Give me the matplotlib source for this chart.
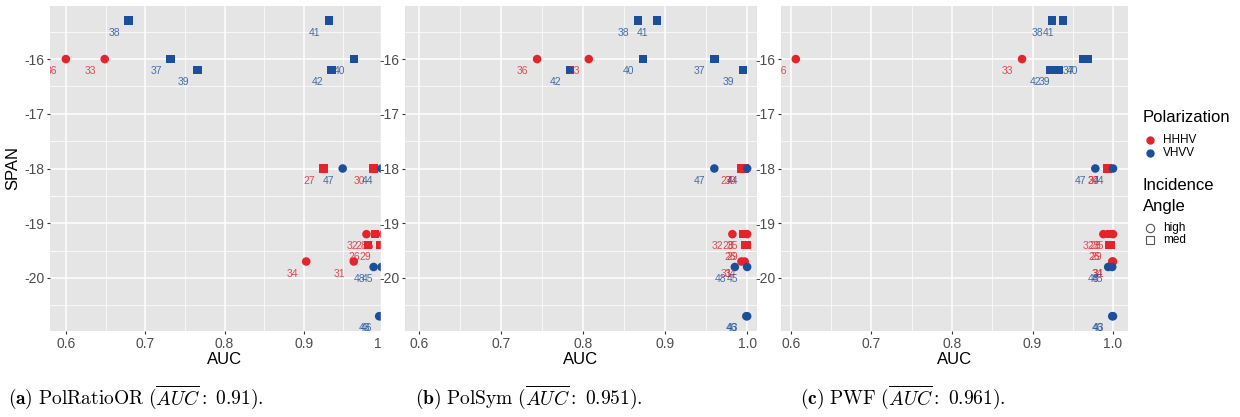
import matplotlib.pyplot as plt
from matplotlib.lines import Line2D
from matplotlib.patches import Rectangle
from matplotlib.ticker import MultipleLocator, FormatStrFormatter

plt.rcParams["font.family"] = ["Liberation Sans", "DejaVu Sans"]
plt.rcParams["axes.unicode_minus"] = False
plt.rcParams["mathtext.fontset"] = "cm"

# configuration ids 26..48
ids = [26, 27, 28, 29, 30, 31, 32, 33, 34, 35, 36,
       37, 38, 39, 40, 41, 42, 43, 44, 45, 46, 47, 48]
span = [-19.4, -18.0, -19.2, -19.4, -18.0, -19.7, -19.2, -16.0, -19.7, -19.2, -16.0,
        -16.0, -15.3, -16.2, -16.0, -15.3, -16.2, -20.7, -18.0, -19.8, -20.7, -18.0, -19.8]
pol = ["HHHV"] * 11 + ["VHVV"] * 12
angle = ["med"] * 5 + ["high"] * 6 + ["med"] * 6 + ["high"] * 6

auc_a = [0.981, 0.925, 0.990, 0.996, 0.988, 0.963, 0.979, 0.649, 0.903, 1.000, 0.600,
         0.732, 0.679, 0.766, 0.963, 0.932, 0.935, 0.995, 0.998, 0.998, 0.997, 0.949, 0.988]
auc_b = [0.998, 0.993, 0.995, 1.000, 0.997, 0.993, 0.982, 0.807, 0.997, 1.000, 0.744,
         0.960, 0.867, 0.995, 0.873, 0.890, 0.784, 1.000, 1.000, 1.000, 0.999, 0.960, 0.985]
auc_c = [0.995, 0.993, 0.996, 0.997, 0.994, 1.000, 0.988, 0.887, 0.999, 1.000, 0.606,
         0.963, 0.924, 0.933, 0.968, 0.938, 0.922, 1.000, 1.000, 0.999, 0.999, 0.978, 0.994]

captions = [r"$\mathbf{(a)}\ \mathrm{PolRatioOR}\ (\overline{AUC}\mathrm{:}\ 0.91)\mathrm{.}$",
            r"$\mathbf{(b)}\ \mathrm{PolSym}\ (\overline{AUC}\mathrm{:}\ 0.951)\mathrm{.}$",
            r"$\mathbf{(c)}\ \mathrm{PWF}\ (\overline{AUC}\mathrm{:}\ 0.961)\mathrm{.}$"]

colors = {"HHHV": "#E4232B", "VHVV": "#1B4F9C"}
markers = {"high": "o", "med": "s"}

W, H = 1240, 417
fig = plt.figure(figsize=(W / 100, H / 100), dpi=100)


def px_box(x0, x1, y0=6, y1=331):
    return [x0 / W, 1 - y1 / H, (x1 - x0) / W, (y1 - y0) / H]


panels = [
    (auc_a, px_box(50, 399), (0.58, 1.02), captions[0], 8),
    (auc_b, px_box(405, 757), (0.583, 1.012), captions[1], 415),
    (auc_c, px_box(781, 1128), (0.5876, 1.0186), captions[2], 800),
]

for i, (auc, box, xlim, cap, cap_x) in enumerate(panels):
    ax = fig.add_axes(box)
    ax.set_zorder(0 if i == 0 else 2)
    ax.set_facecolor("#E5E5E5")
    for s in ax.spines.values():
        s.set_visible(False)

    for x, y, p, a, n in zip(auc, span, pol, angle, ids):
        ax.scatter(x, y, s=38, marker=markers[a], color=colors[p],
                   edgecolors="none", zorder=3)
    # labels overlap where points pile up, as in the original
    for x, y, p, n in zip(auc, span, pol, ids):
        ax.text(x - 0.018, y - 0.22, str(n), color=colors[p], alpha=0.8,
                fontsize=7.5, ha="center", va="center", clip_on=True, zorder=4)

    ax.set_xlim(*xlim)
    ax.set_ylim(-20.97, -15.03)
    ax.xaxis.set_major_locator(MultipleLocator(0.1))
    ax.xaxis.set_minor_locator(MultipleLocator(0.05))
    ax.yaxis.set_major_locator(MultipleLocator(1))
    ax.yaxis.set_minor_locator(MultipleLocator(0.5))
    ax.xaxis.set_major_formatter(FormatStrFormatter("%.1f"))
    ax.yaxis.set_major_formatter(FormatStrFormatter("%d"))
    ax.set_axisbelow(True)
    ax.grid(which="major", color="white", lw=1.1)
    ax.grid(which="minor", color="white", lw=0.5)
    ax.tick_params(which="major", length=2.5, width=0.8, color="#333333",
                   labelcolor="#4D4D4D", labelsize=10, pad=1.5)
    ax.tick_params(which="minor", length=0)
    ax.set_xlabel("AUC", fontsize=12, labelpad=1)
    if i == 0:
        ax.set_ylabel("SPAN", fontsize=12, labelpad=3)

    fig.text(cap_x / W, 1 - 397 / H, cap, fontsize=14, ha="left", va="center")

# the panels were cropped side by side: hide what spills past panel a
fig.add_artist(Rectangle((381 / W, 0.1), 1, 1, transform=fig.transFigure,
                         color="white", zorder=1))

# legend
fig.text(1143 / W, 1 - 118 / H, "Polarization", fontsize=12, va="center")
for lab, yy in [("HHHV", 140), ("VHVV", 153)]:
    fig.add_artist(Line2D([1150 / W], [1 - yy / H], marker="o", ms=5,
                          color=colors[lab], lw=0, transform=fig.transFigure))
    fig.text(1163 / W, 1 - yy / H, lab, fontsize=8.5, va="center")
fig.text(1143 / W, 1 - 186 / H, "Incidence", fontsize=12, va="center")
fig.text(1143 / W, 1 - 207 / H, "Angle", fontsize=12, va="center")
for lab, yy in [("high", 228), ("med", 240)]:
    fig.add_artist(Line2D([1150 / W], [1 - yy / H], marker=markers[lab], ms=6,
                          markerfacecolor="none", markeredgecolor="#555555",
                          mew=0.8, lw=0, transform=fig.transFigure))
    fig.text(1163 / W, 1 - yy / H, lab, fontsize=8.5, va="center")

fig.savefig("out.png", dpi=100)
